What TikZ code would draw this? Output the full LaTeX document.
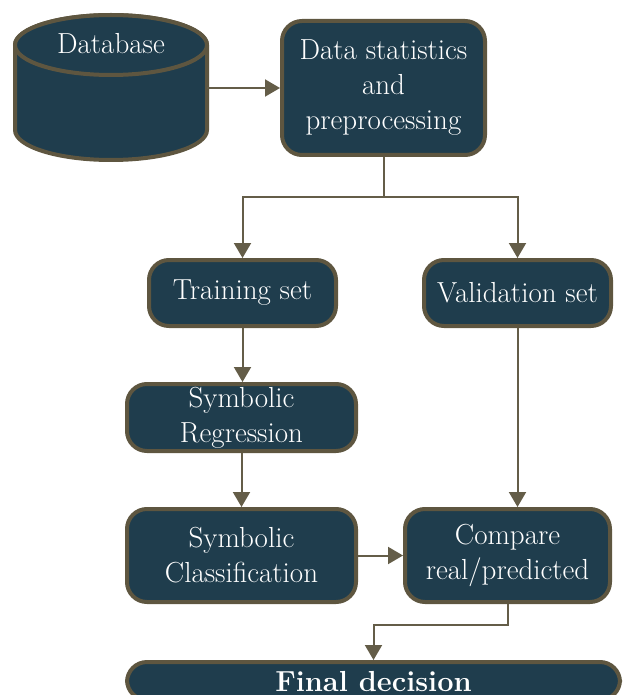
\documentclass[tikz,border=0pt]{standalone}
\usepackage{tikz}
\usetikzlibrary{positioning,arrows.meta,calc}
\definecolor{boxfill}{HTML}{1F3D4D}
\definecolor{boxline}{HTML}{5E5640}
\definecolor{arrline}{HTML}{645D48}

\begin{document}
\begin{tikzpicture}[x=1pt, y=-1pt,
        mbox/.style = {draw = boxline, line width = 4pt, fill = boxfill, rounded corners = 20pt, text = white, align = center, inner sep = 0pt, font = \fontsize{29}{35}\selectfont},
        mdb/.style = {draw = boxline, line width = 4pt, fill = boxfill},
        mline/.style = {draw = arrline, line width = 2pt},
        marrow/.style = {mline, arrows = {-Triangle[length=15pt, width=17pt]}}
        ]
        \useasboundingbox (0,0) rectangle (633,695);

        % database cylinder
        \draw[mdb] (15,45) -- (15,130) arc[start angle=180, end angle=0, x radius=96, y radius=30] -- (207,45) arc[start angle=0, end angle=-180, x radius=96, y radius=30] -- cycle;
        \draw[mdb] (111,45) ellipse[x radius=96, y radius=30];
        \node[minimum width=192pt, minimum height=145pt, inner sep=0pt] (db) at (111,88) {};
        \node[text=white, font=\fontsize{29}{35}\selectfont] (dbtext) at (111,44) {Database};

        \node[mbox, minimum width=203pt, minimum height=134pt] (prep) at (383.5,88) {Data statistics\\ and\\ preprocessing};

        \node[mbox, minimum width=187pt, minimum height=66pt] (train) at (242.5,293) {Training set};
        \node[mbox, minimum width=187pt, minimum height=66pt] (valid) at (517.5,293) {Validation set};

        \node[mbox, minimum width=229pt, minimum height=67pt] (symreg) at (241.5,417.5) {Symbolic\\ Regression};
        \node[mbox, minimum width=229pt, minimum height=93pt] (symclass) at (241.5,555.5) {Symbolic\\ Classification};
        \node[mbox, minimum width=205pt, minimum height=93pt] (compare) at (507.5,555.5) {Compare\\ real/predicted};

        \node[mbox, minimum width=493pt, minimum height=38pt, text depth=0pt, font=\fontsize{29}{35}\selectfont\bfseries] (final) at (373.5,681) {Final decision};

        \coordinate (split) at (383.5,197);

        \draw[marrow] (db.east) -- (prep.west);
        \draw[mline] (prep.south) -- (split);
        \draw[marrow] (split) -| (train.north);
        \draw[marrow] (split) -| (valid.north);
        \draw[marrow] (train.south) -- (train.south |- symreg.north);
        \draw[marrow] (symreg.south) -- (symclass.north);
        \draw[marrow] (valid.south) -- (valid.south |- compare.north);
        \draw[marrow] (symclass.east) -- (compare.west);
        \draw[marrow] (compare.south) -- ++(0,21) -| (final.north);

    \end{tikzpicture}
\end{document}
